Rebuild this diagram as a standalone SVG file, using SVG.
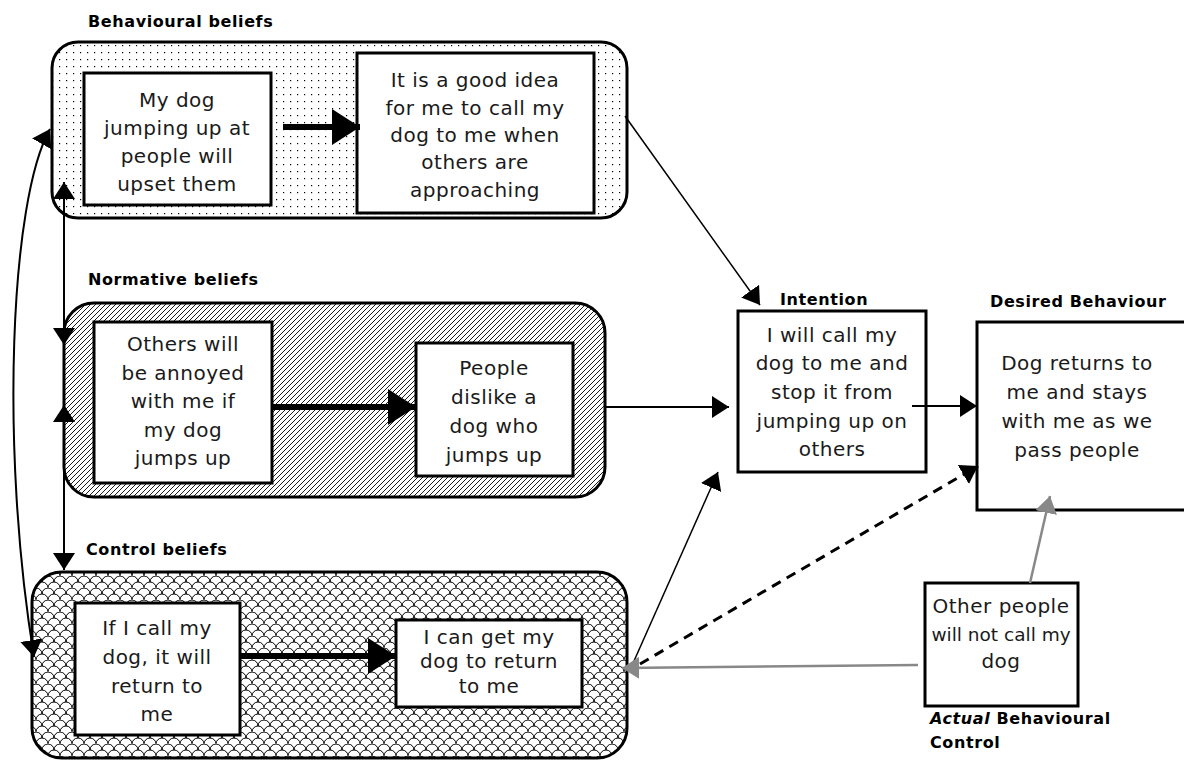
<svg xmlns="http://www.w3.org/2000/svg" width="1184" height="760" viewBox="0 0 1184 760">
<style>
.t{font-family:"DejaVu Sans",sans-serif;font-size:20px;letter-spacing:0.5px;fill:#1a1a1a;text-anchor:middle}
.h{font-family:"DejaVu Sans",sans-serif;font-size:16px;font-weight:bold;letter-spacing:0.6px;fill:#000}
.box{fill:#fff;stroke:#000;stroke-width:3}
.grp{stroke:#000;stroke-width:3}
.thick{stroke:#000;stroke-width:6;fill:none}
.thin{stroke:#000;stroke-width:1.5;fill:none}
.med{stroke:#000;stroke-width:2;fill:none}
.gray{stroke:#888;stroke-width:2.5;fill:none}
</style>
<defs>
<pattern id="dots" patternUnits="userSpaceOnUse" width="7" height="7"><rect width="7" height="7" fill="#fff"/><rect x="3" y="3" width="1.2" height="1.2" fill="#000"/></pattern>
<pattern id="hatch" patternUnits="userSpaceOnUse" width="5" height="5"><rect width="5" height="5" fill="#fff"/><path d="M-1,1 l2,-2 M0,5 l5,-5 M4,6 l2,-2" stroke="#000" stroke-width="0.9"/></pattern>
<pattern id="scale" patternUnits="userSpaceOnUse" width="12" height="12"><rect width="12" height="12" fill="#fff"/><path d="M0,12 A6,6 0 0 1 12,12 M-6,6 A6,6 0 0 1 6,6 M6,6 A6,6 0 0 1 18,6 M0,0 A6,6 0 0 1 12,0" stroke="#000" stroke-width="1" fill="none"/></pattern>
<marker id="big" markerUnits="userSpaceOnUse" markerWidth="30" markerHeight="36" refX="28" refY="18" orient="auto"><path d="M0,0 L28,18 L0,36 Z" fill="#000"/></marker>
<marker id="ah" markerUnits="userSpaceOnUse" markerWidth="18" markerHeight="22" refX="17" refY="11" orient="auto"><path d="M0,0 L17,11 L0,22 Z" fill="#000"/></marker>
<marker id="ahs" markerUnits="userSpaceOnUse" markerWidth="18" markerHeight="22" refX="17" refY="11" orient="auto-start-reverse"><path d="M0,0 L17,11 L0,22 Z" fill="#000"/></marker>
<marker id="ahg" markerUnits="userSpaceOnUse" markerWidth="18" markerHeight="22" refX="17" refY="11" orient="auto"><path d="M0,0 L17,11 L0,22 Z" fill="#888"/></marker>
</defs>

<g id="behavioural-group">
<text class="h" x="88" y="27">Behavioural beliefs</text>
<rect class="grp" x="52" y="42" width="575" height="176" rx="26" fill="url(#dots)"/>
</g>
<g id="normative-group">
<text class="h" x="88" y="285">Normative beliefs</text>
<rect class="grp" x="64" y="303" width="541" height="194" rx="30" fill="url(#hatch)"/>
</g>
<g id="control-group">
<text class="h" x="86" y="555">Control beliefs</text>
<rect class="grp" x="32" y="572" width="595" height="186" rx="30" fill="url(#scale)"/>
</g>

<g id="b1"><rect class="box" x="84" y="73" width="187" height="132"/>
<text class="t" x="177" y="107">My dog</text><text class="t" x="177" y="135">jumping up at</text><text class="t" x="177" y="163">people will</text><text class="t" x="177" y="191">upset them</text></g>
<g id="b2"><rect class="box" x="357" y="53" width="237" height="160"/>
<text class="t" x="475" y="87">It is a good idea</text><text class="t" x="475" y="115">for me to call my</text><text class="t" x="475" y="142">dog to me when</text><text class="t" x="475" y="169">others are</text><text class="t" x="475" y="197">approaching</text></g>
<g id="n1"><rect class="box" x="94" y="322" width="178" height="161"/>
<text class="t" x="183" y="351">Others will</text><text class="t" x="183" y="380">be annoyed</text><text class="t" x="183" y="408">with me if</text><text class="t" x="183" y="437">my dog</text><text class="t" x="183" y="465">jumps up</text></g>
<g id="n2"><rect class="box" x="416" y="343" width="157" height="133"/>
<text class="t" x="494" y="375">People</text><text class="t" x="494" y="404">dislike a</text><text class="t" x="494" y="433">dog who</text><text class="t" x="494" y="462">jumps up</text></g>
<g id="c1"><rect class="box" x="75" y="603" width="165" height="132"/>
<text class="t" x="157" y="635">If I call my</text><text class="t" x="157" y="664">dog, it will</text><text class="t" x="157" y="693">return to</text><text class="t" x="157" y="721">me</text></g>
<g id="c2"><rect class="box" x="396" y="620" width="186" height="87"/>
<text class="t" x="489" y="644">I can get my</text><text class="t" x="489" y="668">dog to return</text><text class="t" x="489" y="693">to me</text></g>
<g id="intention"><text class="h" x="780" y="305">Intention</text>
<rect class="box" x="738" y="311" width="188" height="161"/>
<text class="t" x="832" y="342">I will call my</text><text class="t" x="832" y="370">dog to me and</text><text class="t" x="832" y="399">stop it from</text><text class="t" x="832" y="428">jumping up on</text><text class="t" x="832" y="456">others</text></g>
<g id="desired"><text class="h" x="990" y="307">Desired Behaviour</text>
<rect class="box" x="977" y="322" width="210" height="188"/>
<text class="t" x="1077" y="370">Dog returns to</text><text class="t" x="1077" y="399">me and stays</text><text class="t" x="1077" y="428">with me as we</text><text class="t" x="1077" y="457">pass people</text></g>
<g id="actual"><rect class="box" x="925" y="583" width="153" height="123"/>
<text class="t" x="1001" y="613">Other people</text><text class="t" x="1001" y="641" style="letter-spacing:0;font-size:18.5px">will not call my</text><text class="t" x="1001" y="668">dog</text>
<text class="h" x="930" y="724"><tspan font-style="italic">Actual</tspan> Behavioural</text><text class="h" x="930" y="748">Control</text></g>

<g id="connectors">
<line class="thick" x1="283" y1="127" x2="360" y2="127" marker-end="url(#big)"/>
<line class="thick" x1="272" y1="407" x2="416" y2="407" marker-end="url(#big)"/>
<line class="thick" x1="240" y1="656" x2="396" y2="656" marker-end="url(#big)"/>
<line class="thin" x1="625" y1="116" x2="760" y2="305" marker-end="url(#ah)"/>
<line class="med" x1="605" y1="407" x2="729" y2="407" marker-end="url(#ah)"/>
<line class="med" x1="912" y1="406" x2="977" y2="406" marker-end="url(#ah)"/>
<line class="thin" x1="630" y1="670" x2="718" y2="472" marker-end="url(#ah)"/>
<line stroke="#000" stroke-width="3" stroke-dasharray="10,7" x1="640" y1="664" x2="978" y2="466" marker-end="url(#ah)"/>
<line class="gray" x1="918" y1="665" x2="622" y2="668" marker-end="url(#ahg)"/>
<line class="gray" x1="1030" y1="583" x2="1050" y2="496" marker-end="url(#ahg)"/>
<line class="med" x1="64" y1="182" x2="64" y2="345" marker-start="url(#ahs)" marker-end="url(#ah)"/>
<line class="med" x1="64" y1="405" x2="64" y2="570" marker-start="url(#ahs)" marker-end="url(#ah)"/>
<line class="med" x1="64" y1="345" x2="64" y2="405"/>
<path class="med" d="M50,129 C10,200 0,450 34,657" marker-start="url(#ahs)" marker-end="url(#ah)"/>
</g>
</svg>
